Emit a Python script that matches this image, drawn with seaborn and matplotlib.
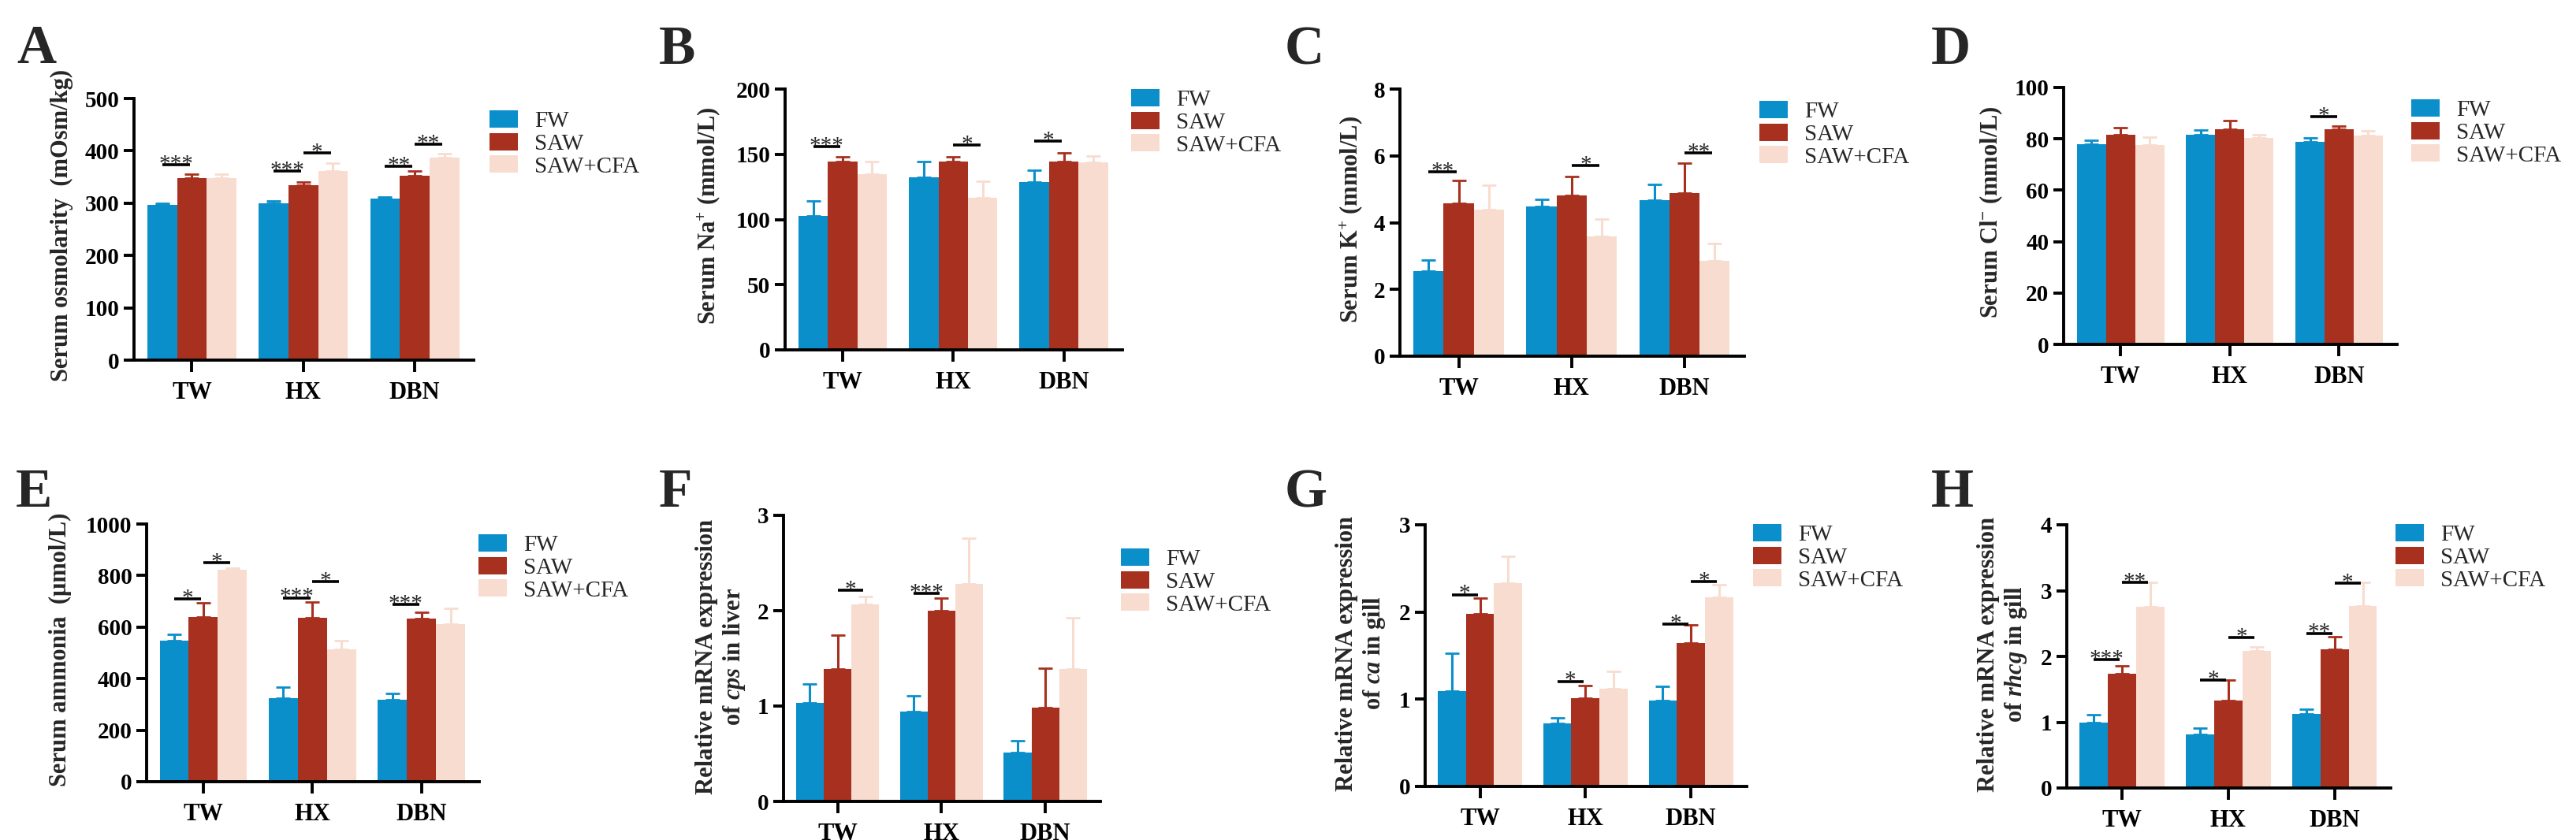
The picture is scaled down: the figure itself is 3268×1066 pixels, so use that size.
#!/usr/bin/env python3
# -*- coding: utf-8 -*-

import numpy as np
import pandas as pd
import matplotlib
matplotlib.use("Agg")
import matplotlib.pyplot as plt
import seaborn as sns

groups = ["TW", "HX", "DBN"]
treats = ["FW", "SAW", "SAW+CFA"]
colors = ["#0a8fcb", "#a8301e", "#f8dcd0"]

# rows: TW, HX, DBN / cols: FW, SAW, SAW+CFA ; err = upper SEM
osm_mean = [[297, 348, 348], [300, 335, 362], [309, 353, 387]]
osm_err = [[2.5, 7, 8], [4, 5, 15], [3, 8, 8]]
osm_sig = [("TW", "FW", "SAW", "***", 373), ("HX", "FW", "SAW", "***", 361),
           ("HX", "SAW", "SAW+CFA", "*", 396), ("DBN", "FW", "SAW", "**", 370),
           ("DBN", "SAW", "SAW+CFA", "**", 413)]

na_mean = [[102.7, 144.7, 134.6], [132.6, 144.7, 116.6], [128.5, 144.7, 143.6]]
na_err = [[11.8, 3.3, 9.9], [12.1, 3.3, 12.7], [9.2, 6.5, 4.8]]
na_sig = [("TW", "FW", "SAW", "***", 156), ("HX", "SAW", "SAW+CFA", "*", 157),
          ("DBN", "FW", "SAW", "*", 160)]

k_mean = [[2.56, 4.58, 4.39], [4.49, 4.81, 3.59], [4.68, 4.89, 2.86]]
k_err = [[0.33, 0.68, 0.74], [0.21, 0.57, 0.51], [0.47, 0.90, 0.51]]
k_sig = [("TW", "FW", "SAW", "**", 5.52), ("HX", "SAW", "SAW+CFA", "*", 5.72),
         ("DBN", "SAW", "SAW+CFA", "**", 6.08)]

cl_mean = [[77.8, 81.6, 77.5], [81.7, 83.8, 80.5], [78.7, 83.6, 81.3]]
cl_err = [[1.7, 2.8, 3.3], [1.8, 3.4, 1.2], [1.7, 1.5, 1.7]]
cl_sig = [("DBN", "FW", "SAW", "*", 88.6)]

amm_mean = [[548, 638, 824], [323, 635, 515], [319, 632, 613]]
amm_err = [[23, 57, 6], [43, 63, 33], [25, 25, 59]]
amm_sig = [("TW", "FW", "SAW", "*", 708), ("TW", "SAW", "SAW+CFA", "*", 851),
           ("HX", "FW", "SAW", "***", 714), ("HX", "SAW", "SAW+CFA", "*", 778),
           ("DBN", "FW", "SAW", "***", 687)]

cps_mean = [[1.03, 1.39, 2.07], [0.945, 2.00, 2.28], [0.515, 0.98, 1.386]]
cps_err = [[0.20, 0.35, 0.08], [0.16, 0.13, 0.48], [0.12, 0.42, 0.54]]
cps_sig = [("TW", "SAW", "SAW+CFA", "*", 2.215), ("HX", "FW", "SAW", "***", 2.18)]

ca_mean = [[1.09, 1.98, 2.33], [0.72, 1.01, 1.12], [0.985, 1.643, 2.166]]
ca_err = [[0.44, 0.18, 0.31], [0.065, 0.145, 0.20], [0.16, 0.21, 0.144]]
ca_sig = [("TW", "FW", "SAW", "*", 2.2), ("HX", "FW", "SAW", "*", 1.206),
          ("DBN", "FW", "SAW", "*", 1.865), ("DBN", "SAW", "SAW+CFA", "*", 2.345)]

rhcg_mean = [[0.99, 1.737, 2.756], [0.82, 1.33, 2.084], [1.12, 2.108, 2.77]]
rhcg_err = [[0.12, 0.118, 0.371], [0.085, 0.31, 0.061], [0.075, 0.19, 0.357]]
rhcg_sig = [("TW", "FW", "SAW", "***", 1.957), ("TW", "SAW", "SAW+CFA", "**", 3.12),
            ("HX", "FW", "SAW", "*", 1.643), ("HX", "SAW", "SAW+CFA", "*", 2.29),
            ("DBN", "FW", "SAW", "**", 2.353), ("DBN", "SAW", "SAW+CFA", "*", 3.11)]

W, H = 3268, 1066

# letter, ylabel, data, ymax, ystep, axes px (l, r, t, b), ylabel px, legend px, letter px
panels = [
    ("A", "Serum osmolarity  (mOsm/kg)", osm_mean, osm_err, osm_sig, 500, 100,
     (170, 601, 125, 457), (78, 286), (621, 140), (21, 80)),
    ("B", r"Serum Na$^{+}$ (mmol/L)", na_mean, na_err, na_sig, 200, 50,
     (996, 1424, 113, 444), (899, 274), (1435, 113), (836, 81)),
    ("C", r"Serum K$^{+}$ (mmol/L)", k_mean, k_err, k_sig, 8, 2,
     (1776, 2213, 113, 452), (1714, 279), (2232, 128), (1630, 81)),
    ("D", r"Serum Cl$^{-}$ (mmol/L)", cl_mean, cl_err, cl_sig, 100, 20,
     (2618, 3041, 111, 437), (2526, 269), (3059, 126), (2450, 81)),
    ("E", "Serum ammonia  (μmol/L)", amm_mean, amm_err, amm_sig, 1000, 200,
     (186, 608, 665, 992), (76, 824), (607, 678), (20, 643)),
    ("F", "Relative mRNA expression\n" + r"of $\mathit{cps}$ in liver", cps_mean, cps_err, cps_sig, 3, 1,
     (994, 1396, 654, 1017), (915, 833), (1422, 696), (836, 643)),
    ("G", "Relative mRNA expression\n" + r"of $\mathit{ca}$ in gill", ca_mean, ca_err, ca_sig, 3, 1,
     (1808, 2216, 666, 998), (1727, 829), (2224, 665), (1630, 644)),
    ("H", "Relative mRNA expression\n" + r"of $\mathit{rhcg}$ in gill", rhcg_mean, rhcg_err, rhcg_sig, 4, 1,
     (2622, 3033, 666, 1000), (2541, 830), (3039, 665), (2450, 643)),
]


def draw_panel(fig, p):
    letter, ylabel, mean, err, sig, ymax, ystep, box, labxy, legxy, letxy = p
    l, r, t, b = box
    ax = fig.add_axes([l / W, 1 - b / H, (r - l) / W, (b - t) / H])

    rows = []
    for gi, g in enumerate(groups):
        for ti, tr in enumerate(treats):
            rows.append({"group": g, "treat": tr, "value": mean[gi][ti]})
    df = pd.DataFrame(rows)
    sns.barplot(data=df, x="group", y="value", hue="treat", order=groups,
                hue_order=treats, palette=colors, saturation=1, errorbar=None,
                width=0.8, linewidth=0, ax=ax)

    centers = {}
    for ti, tr in enumerate(treats):
        bars = ax.containers[ti]
        xs = [bb.get_x() + bb.get_width() / 2 for bb in bars]
        ys = [bb.get_height() for bb in bars]
        e = [err[gi][ti] for gi in range(len(groups))]
        ax.errorbar(xs, ys, yerr=[np.zeros(len(e)), e], fmt="none",
                    ecolor=colors[ti], elinewidth=1.1, capsize=3.4,
                    capthick=1.0, zorder=0.8)
        for gi, g in enumerate(groups):
            centers[(g, tr)] = xs[gi]

    for g, t1, t2, lab, y in sig:
        x1 = centers[(g, t1)]
        x2 = centers[(g, t2)] - 0.02
        ax.plot([x1, x2], [y, y], color="black", lw=1.3,
                solid_capstyle="butt", zorder=4)
        ax.annotate(lab, xy=((x1 + x2) / 2, y), xytext=(0, -2.5),
                    textcoords="offset points", ha="center", va="baseline",
                    fontsize=10.5, fontweight="normal", zorder=5)

    ax.set_xlim(-0.52, 2.53)
    ax.set_ylim(0, ymax)
    ax.set_yticks(np.arange(0, ymax + ystep / 2, ystep))
    ax.set_xlabel("")
    ax.set_ylabel(ylabel, fontsize=11, fontweight="bold", ha="center",
                  va="center", linespacing=1.2)
    ax.yaxis.set_label_coords((labxy[0] - l) / (r - l), (b - labxy[1]) / (b - t))
    sns.despine(ax=ax)
    for s in ["left", "bottom"]:
        ax.spines[s].set_linewidth(1.4)
        ax.spines[s].set_color("black")
    ax.tick_params(axis="y", length=4.7, width=1.4, pad=2, labelsize=10.5,
                   colors="black")
    ax.tick_params(axis="x", length=5.5, width=1.4, pad=4.3, labelsize=11,
                   colors="black")

    handles, labels = ax.get_legend_handles_labels()
    ax.legend(handles, labels, loc="upper left",
              bbox_to_anchor=(legxy[0] / W, 1 - legxy[1] / H),
              bbox_transform=fig.transFigure, frameon=False, borderpad=0,
              borderaxespad=0, handlelength=1.23, handleheight=0.79,
              handletextpad=0.72, labelspacing=0.05,
              prop={"size": 10.5, "weight": "normal"})

    fig.text(letxy[0] / W, 1 - letxy[1] / H, letter, fontsize=25,
             fontweight="bold", ha="left", va="baseline")
    return ax


def main():
    sns.set_theme(style="ticks")
    plt.rcParams["font.family"] = ["Liberation Serif", "DejaVu Serif"]
    plt.rcParams["font.weight"] = "bold"
    plt.rcParams["mathtext.fontset"] = "custom"
    plt.rcParams["mathtext.rm"] = "Liberation Serif:bold"
    plt.rcParams["mathtext.bf"] = "Liberation Serif:bold"
    plt.rcParams["mathtext.it"] = "Liberation Serif:italic:bold"

    fig = plt.figure(figsize=(W / 200, H / 200), dpi=200)
    for p in panels:
        draw_panel(fig, p)
    fig.savefig("out.png", dpi=200)


if __name__ == '__main__':
    main()
